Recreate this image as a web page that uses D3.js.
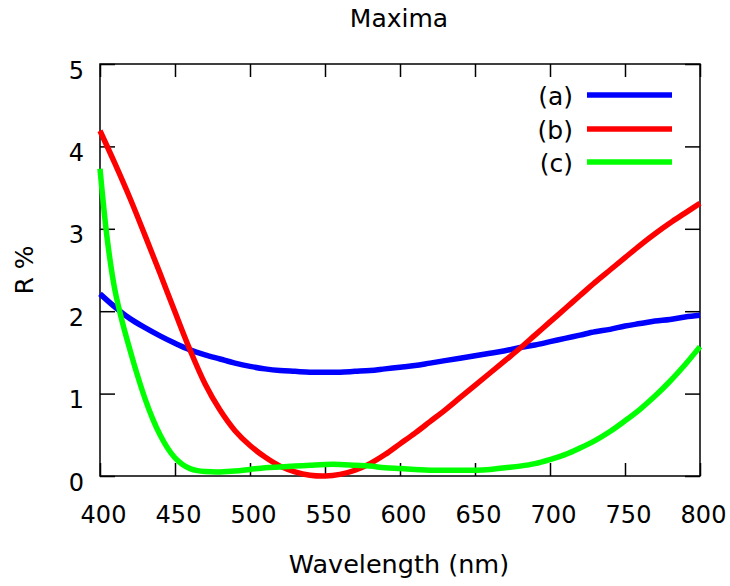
<!DOCTYPE html>
<html><head><meta charset="utf-8">
<script src="https://cdn.jsdelivr.net/npm/d3@7/dist/d3.min.js"></script>
<style>body{margin:0;background:#fff}svg{display:block}text{font-family:"DejaVu Sans",Verdana,sans-serif;fill:#000}</style>
</head><body>
<script>
const wavelengthA = [400,410,420,430,440,450,460,470,480,490,500,510,520,530,540,550,560,570,580,590,600,610,620,630,640,650,660,670,680,690,700,710,720,730,740,750,760,770,780,790,800];
const seriesA = [2.21,2.05,1.91,1.80,1.70,1.61,1.53,1.47,1.42,1.37,1.33,1.30,1.28,1.27,1.26,1.26,1.26,1.27,1.28,1.30,1.32,1.34,1.37,1.40,1.43,1.46,1.49,1.52,1.56,1.59,1.63,1.67,1.71,1.75,1.78,1.82,1.85,1.88,1.90,1.93,1.95];
const wavelengthB = [400,410,420,430,440,450,460,470,480,490,500,510,520,530,540,550,560,570,580,590,600,610,620,630,640,650,660,670,680,690,700,710,720,730,740,750,760,770,780,790,800];
const seriesB = [4.19,3.79,3.37,2.92,2.46,1.99,1.53,1.12,0.80,0.55,0.37,0.23,0.12,0.05,0.01,0.00,0.02,0.07,0.15,0.26,0.39,0.52,0.66,0.80,0.95,1.10,1.25,1.40,1.55,1.71,1.87,2.03,2.19,2.35,2.50,2.65,2.80,2.94,3.07,3.19,3.31];
const wavelengthC = [400,405,410,415,420,425,430,435,440,445,450,455,460,465,470,480,490,500,510,520,530,540,550,560,570,580,590,600,610,620,630,640,650,660,670,680,690,700,710,720,730,740,750,760,770,780,790,800];
const seriesC = [3.73,2.85,2.25,1.86,1.53,1.22,0.94,0.70,0.50,0.34,0.22,0.14,0.09,0.065,0.055,0.05,0.06,0.08,0.10,0.11,0.12,0.13,0.14,0.14,0.13,0.12,0.10,0.09,0.08,0.07,0.07,0.07,0.07,0.08,0.10,0.12,0.15,0.20,0.26,0.34,0.43,0.54,0.67,0.81,0.97,1.15,1.35,1.57];
const seriesNames = ["(a)","(b)","(c)"];
const seriesColors = ["#0000ff","#ff0000","#00ff00"];
const xTicks = [400,450,500,550,600,650,700,750,800];
const yTicks = [0,1,2,3,4,5];
const titleText = "Maxima";
const xLabel = "Wavelength (nm)";
const yLabel = "R %";

const W = 730, H = 586;
const L = 100, R = 700, T = 64, B = 476;
const svg = d3.select("body").append("svg").attr("width", W).attr("height", H);
const x = d3.scaleLinear().domain([400,800]).range([L,R]);
const y = d3.scaleLinear().domain([0,5]).range([B,T]);
const fs = 24, fl = 25;

// frame
svg.append("rect").attr("x",L).attr("y",T).attr("width",R-L).attr("height",B-T)
  .attr("fill","none").attr("stroke","#000").attr("stroke-width",1.5);

// axes with inward ticks
const gx = svg.append("g").attr("transform",`translate(0,${B})`)
  .call(d3.axisBottom(x).tickValues(xTicks).tickSizeInner(-13).tickSizeOuter(0).tickPadding(0).tickFormat(d3.format("d")));
const gxt = svg.append("g").attr("transform",`translate(0,${T})`)
  .call(d3.axisTop(x).tickValues(xTicks).tickSizeInner(-13).tickSizeOuter(0).tickFormat(""));
const gy = svg.append("g").attr("transform",`translate(${L},0)`)
  .call(d3.axisLeft(y).tickValues(yTicks).tickSizeInner(-15).tickSizeOuter(0).tickFormat(d3.format("d")));
const gyr = svg.append("g").attr("transform",`translate(${R},0)`)
  .call(d3.axisRight(y).tickValues(yTicks).tickSizeInner(-15).tickSizeOuter(0).tickFormat(""));
[gx,gxt,gy,gyr].forEach(g=>{
  g.select(".domain").remove();
  g.selectAll(".tick line").attr("stroke","#000").attr("stroke-width",1.5);
});
gx.selectAll(".tick text").attr("font-size",fs).attr("dy",null).attr("y",47).attr("dx",3)
  .attr("font-family","DejaVu Sans");
gy.selectAll(".tick text").attr("font-size",fs).attr("dy",null).attr("y",14).attr("x",-16)
  .attr("font-family","DejaVu Sans");

// series
const data = [
  wavelengthA.map((w,i)=>[w,seriesA[i]]),
  wavelengthB.map((w,i)=>[w,seriesB[i]]),
  wavelengthC.map((w,i)=>[w,seriesC[i]])
];
const line = d3.line().x(d=>x(d[0])).y(d=>y(d[1])).curve(d3.curveCatmullRom.alpha(0.5));
data.forEach((d,i)=>{
  svg.append("path").datum(d).attr("d",line).attr("fill","none")
    .attr("stroke",seriesColors[i]).attr("stroke-width",5.5).attr("stroke-linejoin","round");
});

// legend
const legY = [95,129,162];
seriesNames.forEach((n,i)=>{
  svg.append("line").attr("x1",587).attr("x2",672).attr("y1",legY[i]).attr("y2",legY[i])
    .attr("stroke",seriesColors[i]).attr("stroke-width",5.5);
  svg.append("text").attr("x",573).attr("y",legY[i]+10).attr("text-anchor","end")
    .attr("font-size",fl).text(n);
});

// titles
svg.append("text").attr("x",399).attr("y",27).attr("text-anchor","middle").attr("font-size",fl).text(titleText);
svg.append("text").attr("x",399).attr("y",573).attr("text-anchor","middle").attr("font-size",fl+0.5).text(xLabel);
svg.append("text").attr("transform","translate(33,270) rotate(-90)").attr("text-anchor","middle").attr("font-size",fl).text(yLabel);
</script>
</body></html>
